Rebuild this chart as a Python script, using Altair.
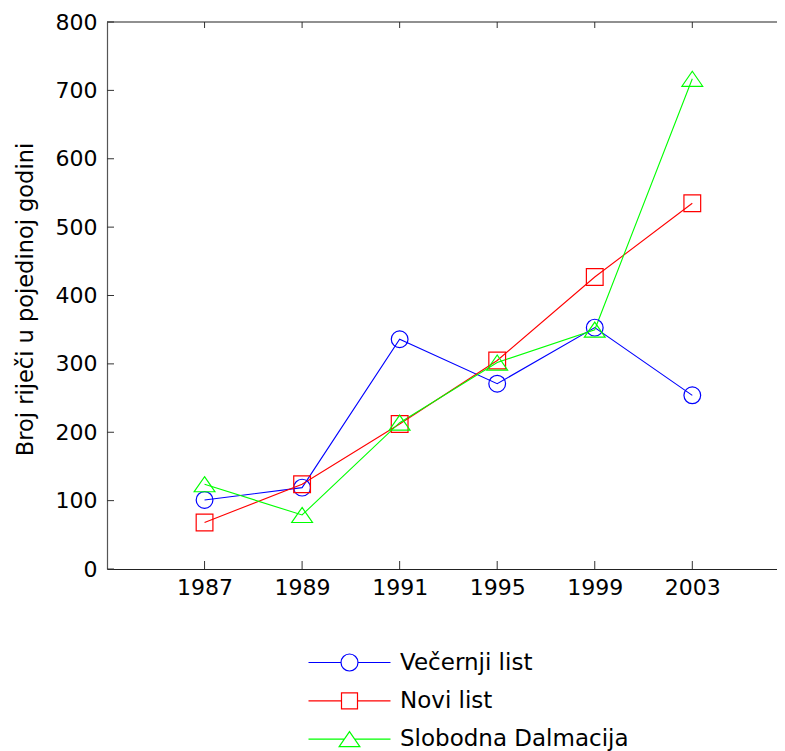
import json
import altair as alt
import pandas as pd

# ---- data ----
years = ["1987", "1989", "1991", "1995", "1999", "2003"]
series = ["Večernji list", "Novi list", "Slobodna Dalmacija"]
vecernji = [101, 119, 336, 271, 353, 254]
novi = [68, 124, 212, 305, 427, 535]
slobodna = [124, 79, 214, 302, 350, 717]
y_ticks = [0, 100, 200, 300, 400, 500, 600, 700, 800]

# ---- styles ----
colors = ["#0000ff", "#ff0000", "#00ff00"]
tri = "M0,-0.9L1.24,0.9L-1.24,0.9Z"
markers = ["circle", "square", tri]
legend_symbols = [
    "M-8.2,0L-1.7,0M1.7,0L8.2,0M-1.7,0A1.7,1.7 0 1 0 1.7,0A1.7,1.7 0 1 0 -1.7,0",
    "M-8.2,0L-1.6,0M1.6,0L8.2,0M-1.6,-1.6L1.6,-1.6L1.6,1.6L-1.6,1.6Z",
    "M-8.2,0L-1.05,0M1.05,0L8.2,0M0,-1.5L2.07,1.5L-2.07,1.5Z",
]

rows = []
for s, vals, c, m in zip(series, [vecernji, novi, slobodna], colors, markers):
    for i, (yr, v) in enumerate(zip(years, vals)):
        rows.append({"series": s, "year": yr, "pos": i + 1, "value": v, "col": c, "mk": m})
df = pd.DataFrame(rows)
pos_df = pd.DataFrame({"pos": list(range(1, len(years) + 1))})
ytick_df = pd.DataFrame({"value": y_ticks})

W, H = 670, 547
STEP = 97.55
FONT = "DejaVu Sans"
AX = "#333333"

label_expr = json.dumps(years) + "[datum.value - 1]"
x_scale = alt.Scale(domain=[0, W / STEP], nice=False, zero=False)
y_scale = alt.Scale(domain=[0, 800], nice=False)
x_axis = alt.Axis(values=list(range(1, len(years) + 1)), labelExpr=label_expr, title=None,
                  grid=False, ticks=False, tickSize=0, labelFont=FONT, labelFontSize=22,
                  labelColor="#000000", labelPadding=8, labelFlush=False, labelOverlap=False,
                  domainColor="#222222", domainWidth=1.2)
y_axis = alt.Axis(values=y_ticks, title="Broj riječi u pojedinoj godini", grid=False,
                  ticks=False, tickSize=0, labelFont=FONT, labelFontSize=22,
                  labelColor="#000000", labelPadding=10, labelFlush=False, labelOverlap=False,
                  domainColor="#555555", domainWidth=1.2,
                  titleFont=FONT, titleFontSize=22.5, titleFontWeight="normal",
                  titleColor="#000000", titleX=-75, titleY=277, titleBaseline="alphabetic",
                  titleAlign="center", titleAngle=270)

x_enc = alt.X("pos:Q", scale=x_scale, axis=x_axis)
y_enc = alt.Y("value:Q", scale=y_scale, axis=y_axis)

lines = alt.Chart(df).mark_line(strokeWidth=1.1).encode(
    x=x_enc, y=y_enc,
    color=alt.Color("col:N", scale=None),
    detail="series:N",
    order="pos:Q",
)

points = alt.Chart(df).mark_point(filled=False, size=280, strokeWidth=1.2, opacity=1).encode(
    x=x_enc, y=y_enc,
    color=alt.Color("col:N", scale=None),
    shape=alt.Shape("mk:N", scale=None),
)

leg = alt.Legend(title=None, orient="none", legendX=231, legendY=629, labelFont=FONT,
                 labelFontSize=23, labelColor="#000000", symbolSize=100,
                 symbolStrokeWidth=1.2, rowPadding=14.3, labelOffset=39, padding=0,
                 labelLimit=400)
legend_layer = alt.Chart(df).mark_point(filled=False, size=100, strokeWidth=1.2, opacity=1).encode(
    color=alt.Color("series:N", scale=alt.Scale(domain=series, range=colors), legend=leg),
    shape=alt.Shape("series:N", scale=alt.Scale(domain=series, range=legend_symbols), legend=leg),
).transform_filter("false")

ytick_left = alt.Chart(ytick_df).mark_rule(color=AX, strokeWidth=1).encode(
    y=y_enc, x=alt.value(0), x2=alt.value(7))
xtick_bottom = alt.Chart(pos_df).mark_rule(color=AX, strokeWidth=1).encode(
    x=x_enc, y=alt.value(H), y2=alt.value(H - 8))
xtick_top = alt.Chart(pos_df).mark_rule(color=AX, strokeWidth=1).encode(
    x=x_enc, y=alt.value(0), y2=alt.value(6))
top_border = alt.Chart(pd.DataFrame({"a": [0]})).mark_rule(color="#222222", strokeWidth=1.2).encode(
    x=alt.value(0), x2=alt.value(W), y=alt.value(0))

chart = alt.layer(
    ytick_left, xtick_bottom, xtick_top, top_border, lines, points, legend_layer
).properties(
    width=W, height=H,
    autosize=alt.AutoSizeParams(type="none"),
    padding={"left": 99, "top": 14, "right": 0, "bottom": 184},
    background="white",
).configure_view(stroke=None)

chart.save("out.html", embed_options={"renderer": "svg", "actions": False})
